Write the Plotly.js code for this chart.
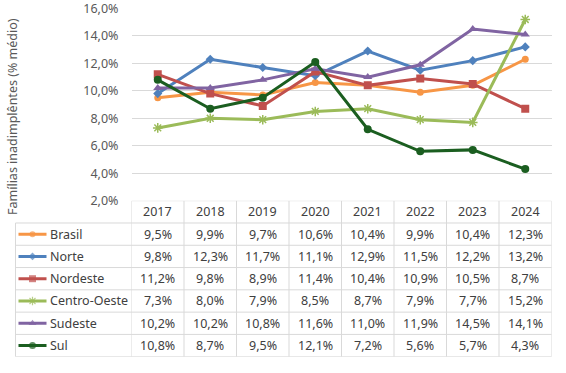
<!DOCTYPE html>
<html>
<head>
<meta charset="utf-8">
<script src="https://cdn.plot.ly/plotly-3.0.1.min.js"></script>
<style>html,body{margin:0;padding:0;background:#fff;}#chart{width:566px;height:373px;}</style>
</head>
<body>
<div id="chart"></div>
<script>
const years = ['2017','2018','2019','2020','2021','2022','2023','2024'];
const seriesNames = ['Brasil','Norte','Nordeste','Centro-Oeste','Sudeste','Sul'];
const brasil      = [9.5, 9.9, 9.7, 10.6, 10.4, 9.9, 10.4, 12.3];
const norte       = [9.8, 12.3, 11.7, 11.1, 12.9, 11.5, 12.2, 13.2];
const nordeste    = [11.2, 9.8, 8.9, 11.4, 10.4, 10.9, 10.5, 8.7];
const centroOeste = [7.3, 8.0, 7.9, 8.5, 8.7, 7.9, 7.7, 15.2];
const sudeste     = [10.2, 10.2, 10.8, 11.6, 11.0, 11.9, 14.5, 14.1];
const sul         = [10.8, 8.7, 9.5, 12.1, 7.2, 5.6, 5.7, 4.3];
const yTicks = [2, 4, 6, 8, 10, 12, 14, 16];
const yTitle = 'Famílias inadimplêntes (% médio)';

const allValues = [brasil, norte, nordeste, centroOeste, sudeste, sul];
const colors = ['#F79646', '#4F81BD', '#C0504D', '#9BBB59', '#8064A2', '#1B5E20'];
const symbols = ['circle', 'diamond', 'square', 'asterisk-open', 'triangle-up', 'circle'];
const msizes = [7, 7, 8, 8, 8, 8];

const W = 566, H = 373;
const px = v => v / W;
const py = v => 1 - v / H;

const plotL = 131.5, plotR = 551.5, plotT = 7.5, plotB = 200.7;
const tblB = 356.7, legL = 15.5;

const fontFam = '"Noto Sans", "Open Sans", Arial, sans-serif';
const txtColor = '#404040';
const gridColor = '#d9d9d9';
const fmt = v => v.toFixed(1).replace('.', ',') + '%';

const traces = [];
allValues.forEach((vals, i) => {
  traces.push({
    type: 'scatter', mode: 'lines+markers', name: seriesNames[i],
    x: years, y: vals, xaxis: 'x', yaxis: 'y',
    line: {color: colors[i], width: 3},
    marker: {symbol: symbols[i], size: msizes[i], color: colors[i],
             line: {color: colors[i], width: symbols[i] === 'asterisk-open' ? 1.5 : 0}},
    showlegend: false, hoverinfo: 'skip'
  });
  // legend key in table
  traces.push({
    type: 'scatter', mode: 'lines+markers',
    x: [3, 17, 31], y: [i + 1.5, i + 1.5, i + 1.5], xaxis: 'x2', yaxis: 'y2',
    line: {color: colors[i], width: 3},
    marker: {symbol: symbols[i], size: [0, msizes[i] - 1, 0], color: colors[i],
             line: {color: colors[i], width: symbols[i] === 'asterisk-open' ? 1.2 : 0}},
    showlegend: false, hoverinfo: 'skip', cliponaxis: false
  });
});

const shapes = [];
const annotations = [];
const lineStyle = {color: gridColor, width: 1};
shapes.push({type: 'line', xref: 'x', yref: 'y2', x0: -0.5, x1: 7.5, y0: 0, y1: 0, line: lineStyle});
for (let r = 1; r <= 7; r++) {
  shapes.push({type: 'line', xref: 'paper', yref: 'y2', x0: px(legL), x1: px(plotR), y0: r, y1: r, line: lineStyle});
}
shapes.push({type: 'line', xref: 'paper', yref: 'y2', x0: px(legL), x1: px(legL), y0: 1, y1: 7, line: lineStyle});
for (let k = 0; k <= years.length; k++) {
  shapes.push({type: 'line', xref: 'x', yref: 'y2', x0: k - 0.5, x1: k - 0.5, y0: 0, y1: 7, line: lineStyle});
}

years.forEach((yr, j) => {
  annotations.push({xref: 'x', yref: 'y2', x: j, y: 0.5, text: yr, showarrow: false,
    xanchor: 'center', yanchor: 'middle',
    font: {family: fontFam, size: 12.5, color: txtColor}});
});
allValues.forEach((vals, i) => {
  annotations.push({xref: 'x2', yref: 'y2', x: 32, y: i + 1.5, text: seriesNames[i], showarrow: false,
    xanchor: 'left', yanchor: 'middle', font: {family: fontFam, size: 12.5, color: txtColor}});
  vals.forEach((v, j) => {
    annotations.push({xref: 'x', yref: 'y2', x: j, y: i + 1.5,
      text: fmt(v), showarrow: false, xanchor: 'center', yanchor: 'middle',
      font: {family: fontFam, size: 12.5, color: txtColor}});
  });
});
annotations.push({xref: 'paper', yref: 'paper', x: px(12), y: py(117), text: yTitle, textangle: -90,
  xanchor: 'center', yanchor: 'middle',
  showarrow: false, font: {family: fontFam, size: 12.5, color: '#595959'}});

const layout = {
  width: W, height: H,
  margin: {l: 0, r: 0, t: 0, b: 0},
  paper_bgcolor: '#fff', plot_bgcolor: 'rgba(0,0,0,0)',
  separators: ',.',
  showlegend: false,
  font: {family: fontFam, color: txtColor},
  xaxis: {type: 'category', domain: [px(plotL), px(plotR)], range: [-0.5, 7.5],
          showgrid: false, zeroline: false, showline: false, showticklabels: false, ticks: '',
          fixedrange: true},
  yaxis: {domain: [py(plotB), py(plotT)], range: [1.999, 16.07], tickmode: 'array',
          tickvals: yTicks, ticktext: yTicks.map(fmt), ticklabeloverflow: 'allow',
          showgrid: true, gridcolor: gridColor, gridwidth: 1,
          zeroline: false, showline: false, ticks: '', ticklabelstandoff: 12,
          tickfont: {family: fontFam, size: 12.5, color: '#595959'}, fixedrange: true},
  xaxis2: {domain: [px(legL), px(plotL)], range: [0, plotL - legL], anchor: 'y2',
           visible: false, fixedrange: true},
  yaxis2: {domain: [py(tblB), py(plotB)], range: [7, 0], anchor: 'x2',
           visible: false, fixedrange: true},
  shapes: shapes,
  annotations: annotations
};

Plotly.newPlot('chart', traces, layout, {staticPlot: true, displayModeBar: false});
</script>
</body>
</html>
